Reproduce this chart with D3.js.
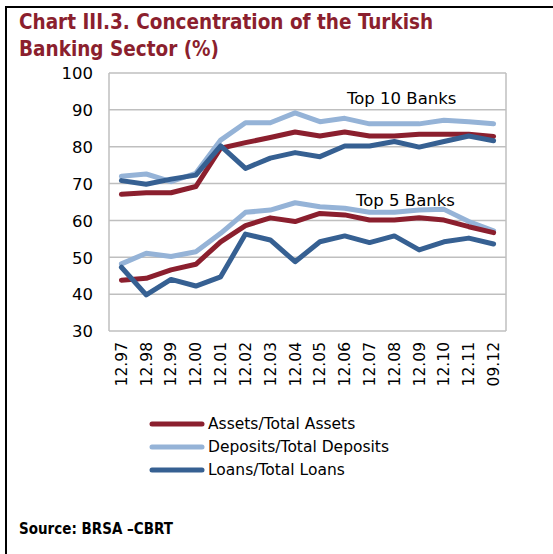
<!DOCTYPE html>
<html>
<head>
<meta charset="utf-8">
<script src="https://cdn.jsdelivr.net/npm/d3@7"></script>
<style>
  html, body { margin: 0; padding: 0; background: #fff; }
  svg { display: block; }
</style>
</head>
<body>
<svg id="chart" width="553" height="554"></svg>
<script>
// Period labels (month.year)
const periods = ["12.97","12.98","12.99","12.00","12.01","12.02","12.03","12.04",
                 "12.05","12.06","12.07","12.08","12.09","12.10","12.11","09.12"];

// Top 10 banks shares (%)
const top10Assets   = [67.1,67.5,67.5,69.2,79.6,81.1,82.5,84.0,82.9,84.0,82.9,82.9,83.4,83.4,83.4,82.8];
const top10Deposits = [72.0,72.6,70.5,72.8,81.8,86.5,86.5,89.2,86.8,87.7,86.2,86.2,86.2,87.2,86.8,86.2];
const top10Loans    = [70.8,69.8,71.2,72.3,80.2,74.1,76.9,78.4,77.3,80.2,80.2,81.4,79.9,81.4,82.9,81.6];

// Top 5 banks shares (%)
const top5Assets   = [43.8,44.3,46.6,48.1,54.2,58.6,60.7,59.7,61.9,61.5,60.1,60.1,60.7,60.1,58.3,56.7];
const top5Deposits = [48.2,51.1,50.2,51.5,56.5,62.2,62.8,64.8,63.7,63.3,62.2,62.2,62.8,63.0,59.7,57.2];
const top5Loans    = [47.3,39.8,44.0,42.2,44.7,56.3,54.7,48.8,54.2,55.8,54.0,55.8,52.0,54.2,55.2,53.6];

const yTicks = [30,40,50,60,70,80,90,100];
const seriesNames = ["Assets/Total Assets","Deposits/Total Deposits","Loans/Total Loans"];
const seriesColors = ["#8B1F2E","#95B3D7","#366092"];

const svg = d3.select("#chart");
const W = 553, H = 554;

// frame: left and top rules of the box
svg.append("line").attr("x1",6).attr("x2",6).attr("y1",6).attr("y2",H)
  .attr("stroke","#000").attr("stroke-width",2);
svg.append("line").attr("x1",5).attr("x2",W).attr("y1",7).attr("y2",7)
  .attr("stroke","#000").attr("stroke-width",2);

const boldFont = "'DejaVu Sans Condensed', 'DejaVu Sans', sans-serif";

// title
const title = svg.append("text")
  .attr("font-family",boldFont).attr("font-stretch","condensed")
  .attr("font-weight","bold").attr("font-size",20.5).attr("fill","#8B1F2E");
title.append("tspan").attr("x",19).attr("y",29).text("Chart III.3. Concentration of the Turkish");
title.append("tspan").attr("x",19).attr("y",56).text("Banking Sector (%)");

const plot = { left: 109, right: 506, top: 73, bottom: 331 };

const x = d3.scaleBand().domain(periods).range([plot.left, plot.right]);
const y = d3.scaleLinear().domain([30,100]).range([plot.bottom, plot.top]);

const font = "Tahoma, 'DejaVu Sans', sans-serif";

// gridlines
svg.append("g").selectAll("line").data(yTicks).join("line")
  .attr("x1",plot.left).attr("x2",plot.right)
  .attr("y1",d=>y(d)).attr("y2",d=>y(d))
  .attr("stroke","#BFBFBF").attr("stroke-width",1.5);
// plot area borders
svg.append("line").attr("x1",plot.left).attr("x2",plot.left)
  .attr("y1",plot.top).attr("y2",plot.bottom).attr("stroke","#BFBFBF").attr("stroke-width",1.5);
svg.append("line").attr("x1",plot.right).attr("x2",plot.right)
  .attr("y1",plot.top).attr("y2",plot.bottom).attr("stroke","#BFBFBF").attr("stroke-width",1.5);

// y axis labels
const yAxis = d3.axisLeft(y).tickValues(yTicks).tickSize(0).tickPadding(16);
const gy = svg.append("g").attr("transform",`translate(${plot.left},0)`).call(yAxis);
gy.select(".domain").remove();
gy.selectAll("text").attr("font-family",font).attr("font-size",16.5).attr("fill","#000")
  .attr("dy","0.35em");

// x axis labels, rotated
const xAxis = d3.axisBottom(x).tickSize(0);
const gx = svg.append("g").attr("transform",`translate(0,${plot.bottom})`).call(xAxis);
gx.select(".domain").remove();
gx.selectAll("text")
  .attr("font-family",font).attr("font-size",15.5).attr("fill","#000")
  .attr("transform","rotate(-90)")
  .attr("text-anchor","end")
  .attr("x",-11).attr("y",0).attr("dy","0.35em");

const line = d3.line()
  .x((d,i)=>x(periods[i]) + x.bandwidth()/2)
  .y(d=>y(d));

// each group: deposits first, then assets, loans on top
const groups = [
  [[top10Deposits,1],[top10Assets,0],[top10Loans,2]],
  [[top5Deposits,1],[top5Assets,0],[top5Loans,2]]
];
const lineGroup = svg.append("g");
groups.forEach(g => {
  g.forEach(([vals, ci]) => {
    lineGroup.append("path").datum(vals).attr("d", line)
      .attr("fill","none").attr("stroke",seriesColors[ci])
      .attr("stroke-width",5).attr("stroke-linejoin","round").attr("stroke-linecap","round");
  });
});

// group annotations
svg.append("text").attr("x",347).attr("y",104).attr("font-family",font)
  .attr("font-size",16.5).attr("fill","#000").text("Top 10 Banks");
svg.append("text").attr("x",356).attr("y",206).attr("font-family",font)
  .attr("font-size",16.5).attr("fill","#000").text("Top 5 Banks");

// legend
const legend = svg.append("g");
seriesNames.forEach((name,i) => {
  const ly = 424 + i*23;
  legend.append("line").attr("x1",152).attr("x2",202).attr("y1",ly).attr("y2",ly)
    .attr("stroke",seriesColors[i]).attr("stroke-width",5).attr("stroke-linecap","round");
  legend.append("text").attr("x",208).attr("y",ly).attr("dy","0.35em")
    .attr("font-family",font).attr("font-size",15.5).attr("fill","#000").text(name);
});

// source note
svg.append("text").attr("x",19).attr("y",534)
  .attr("font-family",boldFont).attr("font-stretch","condensed").attr("font-weight","bold")
  .attr("font-size",15).attr("fill","#000").text("Source: BRSA \u2013CBRT");
</script>
</body>
</html>
